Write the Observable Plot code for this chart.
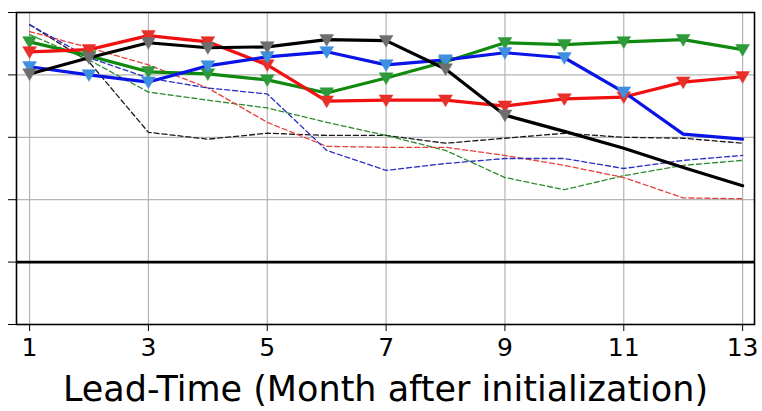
<!DOCTYPE html>
<html>
<head>
<meta charset="utf-8">
<script src="https://cdn.jsdelivr.net/npm/d3@7"></script>
<script src="https://cdn.jsdelivr.net/npm/@observablehq/plot@0.6"></script>
<style>
  html, body { margin: 0; padding: 0; background: #fff; }
  #chart svg { display: block; }
</style>
</head>
<body>
<div id="chart"></div>
<script>
// Lead times (months after initialization)
const months = [1, 2, 3, 4, 5, 6, 7, 8, 9, 10, 11, 12, 13];
const xTicks = [1, 3, 5, 7, 9, 11, 13];
const yTicks = [-0.2, 0, 0.2, 0.4, 0.6, 0.8];
const xLabel = "Lead-Time (Month after initialization)";

// Skill of each experiment (solid lines, with markers at the flagged months)
const blackSolid = [0.603, 0.655, 0.703, 0.687, 0.690, 0.713, 0.710, 0.619, 0.471, 0.419, 0.365, 0.303, 0.245];
const redSolid   = [0.674, 0.681, 0.726, 0.706, 0.632, 0.516, 0.519, 0.519, 0.500, 0.523, 0.529, 0.577, 0.594];
const greenSolid = [0.706, 0.661, 0.610, 0.603, 0.584, 0.542, 0.590, 0.642, 0.703, 0.697, 0.706, 0.713, 0.681];
const blueSolid  = [0.626, 0.600, 0.577, 0.629, 0.658, 0.674, 0.632, 0.648, 0.671, 0.655, 0.545, 0.410, 0.394];

// Months that carry a marker on each solid line
const blackMarked = [1, 2, 3, 4, 5, 6, 7, 8, 9];
const redMarked   = [1, 2, 3, 4, 5, 6, 7, 8, 9, 10, 11, 12, 13];
const greenMarked = [1, 2, 3, 4, 5, 6, 7, 8, 9, 10, 11, 12, 13];
const blueMarked  = [1, 2, 3, 4, 5, 6, 7, 8, 9, 10, 11];

// Reference experiments (thin dashed lines)
const blackDashed = [0.761, 0.642, 0.416, 0.394, 0.413, 0.406, 0.406, 0.381, 0.397, 0.413, 0.400, 0.397, 0.381];
const blueDashed  = [0.761, 0.655, 0.590, 0.558, 0.539, 0.358, 0.294, 0.316, 0.332, 0.332, 0.300, 0.326, 0.342];
const redDashed   = [0.739, 0.687, 0.632, 0.558, 0.448, 0.371, 0.368, 0.368, 0.342, 0.310, 0.271, 0.206, 0.203];
const greenDashed = [0.729, 0.648, 0.545, 0.519, 0.494, 0.448, 0.406, 0.358, 0.271, 0.232, 0.277, 0.310, 0.326];

const toRows = (vals) => months.map((m, i) => ({month: m, value: vals[i]}));
const pick = (vals, marked) => toRows(vals).filter(d => marked.includes(d.month));

// Downward-pointing triangle symbol
const triangleDown = {
  draw(ctx, size) {
    const r = Math.sqrt(size) * 0.6;
    ctx.moveTo(-r, -r * 0.75);
    ctx.lineTo(r, -r * 0.75);
    ctx.lineTo(0, r * 0.95);
    ctx.closePath();
  }
};

const dashed = [
  {vals: blackDashed, stroke: "#1a1a1a"},
  {vals: greenDashed, stroke: "#2e8b2e"},
  {vals: redDashed,   stroke: "#e8403c"},
  {vals: blueDashed,  stroke: "#2b2fc4"}
];
const solid = [
  {vals: greenSolid, marked: greenMarked, stroke: "#0f8a0f", fill: "#2e9a3a"},
  {vals: redSolid,   marked: redMarked,   stroke: "#f01010", fill: "#e8302a"},
  {vals: blueSolid,  marked: blueMarked,  stroke: "#0a14e6", fill: "#3f8fe0"},
  {vals: blackSolid, marked: blackMarked, stroke: "#000000", fill: "#6e6e6e"}
];

const marks = [
  Plot.gridX(xTicks, {stroke: "#b4b4b4", strokeOpacity: 1, strokeWidth: 1.2}),
  Plot.gridY([0.2, 0.4, 0.6], {stroke: "#b4b4b4", strokeOpacity: 1, strokeWidth: 1.2}),
  Plot.ruleY([0], {stroke: "#000", strokeWidth: 2.6}),
  ...dashed.map(s => Plot.line(toRows(s.vals), {
    x: "month", y: "value", stroke: s.stroke, strokeWidth: 1.3, strokeDasharray: "5,3"
  })),
  ...solid.map(s => Plot.line(toRows(s.vals), {
    x: "month", y: "value", stroke: s.stroke, strokeWidth: 3.2
  })),
  ...solid.map(s => Plot.dot(pick(s.vals, s.marked), {
    x: "month", y: "value", symbol: triangleDown, r: 6.5, fill: s.fill, stroke: s.fill, strokeWidth: 0.5
  })),
  Plot.frame({stroke: "#000", strokeWidth: 1.6}),
  Plot.axisX(xTicks, {
    tickSize: 7, tickPadding: 7, fontSize: 25, label: null, stroke: "#000"
  }),
  Plot.axisY(yTicks, {
    tickSize: 8, tickFormat: () => "", label: null, stroke: "#000"
  }),
  Plot.text([xLabel], {
    frameAnchor: "bottom", dy: 65, fontSize: 35, fill: "#000", lineAnchor: "middle"
  })
];

const chart = Plot.plot({
  width: 762,
  height: 411,
  marginLeft: 16,
  marginRight: 8,
  marginTop: 12,
  marginBottom: 87,
  style: {fontFamily: "DejaVu Sans", background: "#fff", color: "#000"},
  x: {domain: [0.78, 13.2]},
  y: {domain: [-0.2, 0.8]},
  marks
});
document.getElementById("chart").append(chart);
</script>
</body>
</html>
